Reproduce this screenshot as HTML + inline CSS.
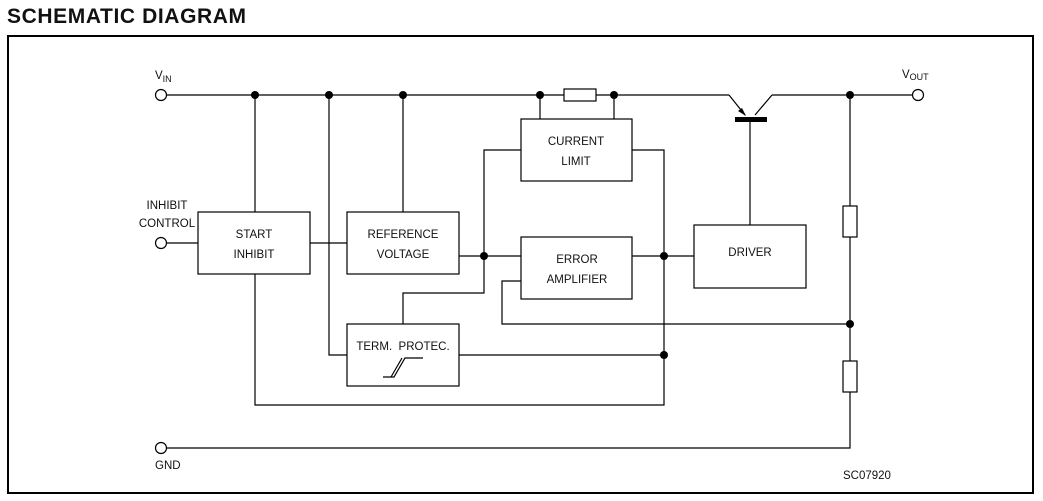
<!DOCTYPE html>
<html><head><meta charset="utf-8"><style>
html,body{margin:0;padding:0;background:#fff;}
body{width:1043px;height:501px;overflow:hidden;position:relative;}
.t{position:absolute;left:7px;top:5px;font:bold 21px "Liberation Sans",Arial,sans-serif;color:#111;letter-spacing:0.6px;}
svg{position:absolute;left:0;top:0;}
text{font-family:"Liberation Sans",Arial,sans-serif;font-size:11.5px;fill:#111;}
</style></head><body>
<div class="t">SCHEMATIC DIAGRAM</div>
<svg width="1043" height="501" viewBox="0 0 1043 501">
<rect x="8" y="36" width="1025" height="457" fill="none" stroke="#000" stroke-width="2"/>
<g stroke="#000" stroke-width="1.2" fill="none">
<line x1="167" y1="95" x2="564" y2="95"/>
<line x1="596" y1="95" x2="729" y2="95"/>
<line x1="772" y1="95" x2="912" y2="95"/>
<rect x="564" y="89" width="32" height="12"/>
<circle cx="161" cy="95" r="5.5"/>
<circle cx="918" cy="95" r="5.5"/>
<circle cx="161" cy="243" r="5.5"/>
<circle cx="161" cy="448" r="5.5"/>
<rect x="198" y="212" width="112" height="62"/>
<rect x="347" y="212" width="112" height="62"/>
<rect x="521" y="119" width="111" height="62"/>
<rect x="521" y="237" width="111" height="62"/>
<rect x="347" y="324" width="112" height="62"/>
<rect x="694" y="225" width="112" height="63"/>
<line x1="540" y1="95" x2="540" y2="119"/>
<line x1="614" y1="95" x2="614" y2="119"/>
<line x1="255" y1="95" x2="255" y2="212"/>
<line x1="403" y1="95" x2="403" y2="212"/>
<polyline points="329,95 329,355 347,355"/>
<line x1="167" y1="243" x2="198" y2="243"/>
<line x1="310" y1="243" x2="347" y2="243"/>
<line x1="459" y1="256" x2="521" y2="256"/>
<polyline points="521,150 484,150 484,293 403,293 403,324"/>
<polyline points="521,281 502,281 502,324 850,324"/>
<polyline points="632,150 664,150 664,405 255,405 255,274"/>
<line x1="632" y1="256" x2="694" y2="256"/>
<line x1="459" y1="355" x2="664" y2="355"/>
<line x1="750" y1="225" x2="750" y2="119"/>
<line x1="729" y1="95" x2="745" y2="115"/>
<line x1="772" y1="95" x2="755" y2="115"/>
<line x1="850" y1="95" x2="850" y2="206"/>
<line x1="850" y1="237" x2="850" y2="361"/>
<polyline points="850,392 850,448 167,448"/>
<rect x="843" y="206" width="14" height="31"/>
<rect x="843" y="361" width="14" height="31"/>
<polyline points="383,377 394,377 405,358 423,358"/>
<line x1="391" y1="377" x2="402" y2="358"/>
</g>
<rect x="735" y="117" width="32" height="5" fill="#000"/>
<polygon points="746,116 738,111 742,108" fill="#000"/>
<g fill="#000">
<circle cx="255" cy="95" r="4"/><circle cx="329" cy="95" r="4"/><circle cx="403" cy="95" r="4"/>
<circle cx="540" cy="95" r="4"/><circle cx="614" cy="95" r="4"/><circle cx="850" cy="95" r="4"/>
<circle cx="484" cy="256" r="4"/><circle cx="664" cy="256" r="4"/><circle cx="664" cy="355" r="4"/>
<circle cx="850" cy="324" r="4"/>
</g>
<g text-anchor="middle">
<text x="254" y="238">START</text><text x="254" y="258">INHIBIT</text>
<text x="403" y="238">REFERENCE</text><text x="403" y="258">VOLTAGE</text>
<text x="576" y="145">CURRENT</text><text x="576" y="165">LIMIT</text>
<text x="577" y="263">ERROR</text><text x="577" y="283">AMPLIFIER</text>
<text x="403" y="350" xml:space="preserve">TERM.  PROTEC.</text>
<text x="750" y="256">DRIVER</text>
<text x="167" y="209">INHIBIT</text><text x="167" y="227">CONTROL</text>
</g>
<text x="155" y="79">V<tspan font-size="9" dy="3">IN</tspan></text>
<text x="902" y="78">V<tspan font-size="9" dy="2">OUT</tspan></text>
<text x="155" y="469" font-size="11">GND</text>
<text x="843" y="479" font-size="10">SC07920</text>
</svg>
</body></html>
